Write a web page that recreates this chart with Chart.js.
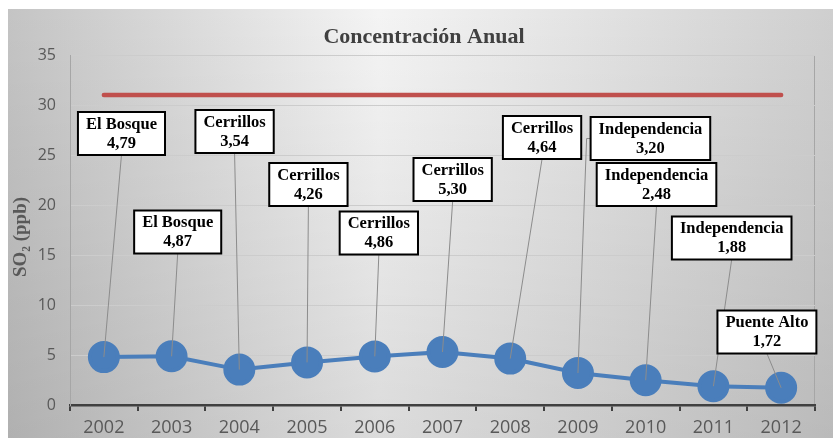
<!DOCTYPE html>
<html>
<head>
<meta charset="utf-8">
<script src="https://cdn.jsdelivr.net/npm/chart.js@4"></script>
<style>
  html, body { margin: 0; padding: 0; background: #fff; }
  #wrap { width: 833px; height: 438px; position: relative; }
</style>
</head>
<body>
<div id="wrap"><canvas id="chart" width="833" height="438"></canvas></div>
<script>
const years = ['2002', '2003', '2004', '2005', '2006', '2007', '2008', '2009', '2010', '2011', '2012'];
const so2Values = [4.79, 4.87, 3.54, 4.26, 4.86, 5.30, 4.64, 3.20, 2.48, 1.88, 1.72];
const stations = ['El Bosque', 'El Bosque', 'Cerrillos', 'Cerrillos', 'Cerrillos', 'Cerrillos', 'Cerrillos',
  'Independencia', 'Independencia', 'Independencia', 'Puente Alto'];
const normValues = [31, 31, 31, 31, 31, 31, 31, 31, 31, 31, 31];
const yTicks = [0, 5, 10, 15, 20, 25, 30, 35];

// callout box placement: shift in categories and height in ppb
const boxShift = [0.26, 0.09, -0.07, 0.02, 0.06, 0.15, 0.47, 1.07, 0.16, 0.27, -0.21];
const boxLevel = [27.15, 17.3, 27.35, 22.05, 17.2, 22.55, 26.75, 26.65, 22.05, 16.7, 7.3];

const fmt = v => v.toFixed(2).replace('.', ',');

const backdrop = {
  id: 'backdrop',
  beforeDraw(chart) {
    const { ctx, width, height, chartArea: a } = chart;
    ctx.save();
    ctx.fillStyle = '#ffffff';
    ctx.fillRect(0, 0, width, height);
    let g = ctx.createLinearGradient(8, 0, width, 0);
    g.addColorStop(0, '#c4c4c4');
    g.addColorStop(0.45, '#f4f4f4');
    g.addColorStop(1, '#cfcfcf');
    ctx.fillStyle = g;
    ctx.fillRect(8, 9, width - 8, height - 9);
    let v = ctx.createLinearGradient(0, 9, 0, height);
    v.addColorStop(0, 'rgba(0,0,0,0)');
    v.addColorStop(1, 'rgba(0,0,0,0.10)');
    ctx.fillStyle = v;
    ctx.fillRect(8, 9, width - 8, height - 9);

    // plot frame
    ctx.strokeStyle = '#a6a6a6';
    ctx.lineWidth = 1;
    ctx.strokeRect(a.left + 0.5, a.top + 0.5, a.right - a.left - 1, a.bottom - a.top);

    // title
    ctx.fillStyle = '#404040';
    ctx.font = 'bold 22px "Liberation Serif"';
    ctx.textAlign = 'center';
    ctx.textBaseline = 'middle';
    ctx.fillText('Concentración Anual', 424, 37);

    // y axis title
    ctx.translate(21, 237);
    ctx.rotate(-Math.PI / 2);
    ctx.fillStyle = '#595959';
    ctx.font = 'bold 19px "Liberation Serif"';
    ctx.fillText('SO\u2082 (ppb)', 0, 0);
    ctx.restore();
  }
};

const callouts = {
  id: 'callouts',
  afterDatasetsDraw(chart) {
    const { ctx, scales: { x, y } } = chart;
    const step = x.getPixelForValue(1) - x.getPixelForValue(0);
    ctx.save();
    ctx.font = 'bold 16.5px "Liberation Serif"';
    ctx.textAlign = 'center';
    ctx.textBaseline = 'middle';
    so2Values.forEach((val, i) => {
      const px = x.getPixelForValue(i);
      const py = y.getPixelForValue(val);
      const cx = px + boxShift[i] * step;
      const cy = y.getPixelForValue(boxLevel[i]);
      const line1 = stations[i];
      const line2 = fmt(val);
      const w = Math.max(ctx.measureText(line1).width, ctx.measureText(line2).width) + 16;
      const h = 43;
      const left = cx - w / 2, top = cy - h / 2;

      // leader line
      ctx.strokeStyle = '#8c8c8c';
      ctx.lineWidth = 1;
      ctx.beginPath();
      if (px < left) {
        ctx.moveTo(left, cy);
        ctx.lineTo(left - 4, cy);
        ctx.lineTo(px, py);
      } else {
        ctx.moveTo(cx, top + h);
        ctx.lineTo(px, py);
      }
      ctx.stroke();

      // box
      ctx.fillStyle = '#ffffff';
      ctx.fillRect(left, top, w, h);
      ctx.strokeStyle = '#000000';
      ctx.lineWidth = 2;
      ctx.strokeRect(left, top, w, h);
      ctx.fillStyle = '#000000';
      ctx.fillText(line1, cx, cy - 9);
      ctx.fillText(line2, cx, cy + 10);
    });
    ctx.restore();
  }
};

new Chart(document.getElementById('chart'), {
  type: 'line',
  data: {
    labels: years,
    datasets: [
      {
        label: 'Norma',
        data: normValues,
        borderColor: '#C0504D',
        borderWidth: 4.5,
        pointRadius: 0,
        pointHoverRadius: 0,
        borderCapStyle: 'round'
      },
      {
        label: 'SO2',
        data: so2Values,
        borderColor: '#4A7EBB',
        backgroundColor: '#4A7EBB',
        borderWidth: 4,
        pointRadius: 14,
        pointHoverRadius: 14,
        pointBackgroundColor: '#4A7EBB',
        pointBorderColor: '#4A7EBB'
      }
    ]
  },
  options: {
    responsive: false,
    animation: false,
    devicePixelRatio: 1,
    layout: { padding: { top: 55, right: 9, left: 0, bottom: 0 } },
    plugins: {
      legend: { display: false },
      tooltip: { enabled: false }
    },
    scales: {
      x: {
        offset: true,
        afterFit(scale) {
          scale.height = 33;
          scale.paddingLeft = 0;
          scale.paddingRight = 0;
        },
        grid: {
          offset: true,
          drawOnChartArea: false,
          drawTicks: true,
          tickLength: 6,
          color: '#404040',
          lineWidth: 2
        },
        border: { color: '#404040', width: 2.5 },
        ticks: {
          color: '#595959',
          font: { family: '"Open Sans"', size: 18 },
          padding: 6,
          maxRotation: 0,
          autoSkip: false
        }
      },
      y: {
        min: 0,
        max: 35,
        afterFit(scale) { scale.width = 70; },
        afterBuildTicks(scale) { scale.ticks = yTicks.map(v => ({ value: v })); },
        grid: { color: '#cccccc', lineWidth: 1, drawTicks: false },
        border: { color: '#a6a6a6', width: 1 },
        ticks: {
          color: '#595959',
          font: { family: '"Open Sans"', size: 16 },
          padding: 14
        }
      }
    }
  },
  plugins: [backdrop, callouts]
});
</script>
</body>
</html>
